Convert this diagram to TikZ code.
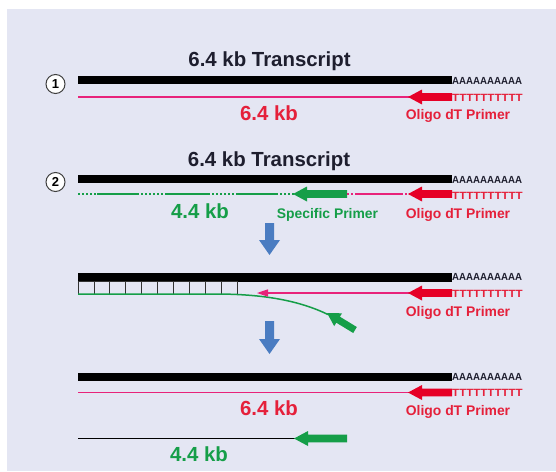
\documentclass[tikz,border=0pt]{standalone}
\usepackage{fontspec}
\setmainfont{Liberation Sans}
\usepackage{graphicx}
\definecolor{bgc}{HTML}{E4E6F3}
\definecolor{pinkl}{HTML}{E8237A}
\definecolor{redA}{HTML}{E60026}
\definecolor{redT}{HTML}{E5203A}
\definecolor{grn}{HTML}{159E48}
\definecolor{blu}{HTML}{4A7CC1}
\definecolor{navy}{HTML}{1E1E2E}
\newcommand\fatleft[4]{% tip x, tail x, y, colour
  \fill[#4] (#1,#3) -- (#1+14,#3-7.5) -- (#1+14,#3-3.8) -- (#2,#3-3.8) -- (#2,#3+3.8) -- (#1+14,#3+3.8) -- (#1+14,#3+7.5) -- cycle;}
\newcommand\downblue[2]{% top y, tip y
  \fill[blu] (265,#1) -- (274,#1) -- (274,#2-15) -- (280,#2-15) -- (269.5,#2) -- (259,#2-15) -- (265,#2-15) -- cycle;}
\newcommand\polyAtext{\scalebox{0.94}[1]{AAAAAAAAAA}}
\newcommand\polyTtext{\scalebox{1.1}[1]{TTTTTTTTTT}}
\begin{document}
\begin{tikzpicture}[x=1pt,y=-1pt,
  titletext/.style={font=\fontsize{20.4}{22}\selectfont\bfseries, text=navy, anchor=base, inner sep=0},
  kbtext/.style={font=\fontsize{20.4}{22}\selectfont\bfseries, anchor=base, inner sep=0},
  primertext/.style={font=\fontsize{13.9}{15}\selectfont\bfseries, anchor=base, inner sep=0},
  polyA/.style={font=\fontsize{10.3}{12}\selectfont\bfseries, text=navy, anchor=base west, inner sep=0},
  polyT/.style={font=\fontsize{10.5}{12}\selectfont\bfseries, text=redT, anchor=base west, inner sep=0},
  circnum/.style={circle, draw=black!75, fill=white, line width=1pt, minimum size=19pt, inner sep=0, font=\fontsize{13}{13}\selectfont\bfseries},
  pinkline/.style={draw=pinkl, line width=1.3pt},
  gline/.style={draw=grn, line width=1.5pt},
  gdot/.style={draw=grn, line width=1.5pt, dash pattern=on 2.2pt off 1.8pt},
  pdot/.style={draw=pinkl, line width=1.4pt, dash pattern=on 2.2pt off 1.8pt},
  cellbox/.style={draw=black!80, line width=0.8pt}
]
\useasboundingbox (0,0) rectangle (556,471);
\fill[white] (0,0) rectangle (556,471);
\fill[bgc] (7,9) rectangle (556,471);

% ---------------- Row 1 ----------------
\node[titletext] (t1) at (269.5,66.5) {6.4 kb Transcript};
\node[circnum] (c1) at (55.5,84) {1};
\fill[black] (78,75.5) rectangle (452,84.3);
\node[polyA] (a1) at (452,84.3) {\polyAtext};
\draw[pinkline] (78,97) -- (410,97);
\fatleft{408}{452}{97}{redA}
\node[polyT] (tt1) at (452,101) {\polyTtext};
\node[kbtext, text=redT] (kb1) at (269,120.5) {6.4 kb};
\node[primertext, text=redT] (o1) at (458,119) {Oligo dT Primer};

% ---------------- Row 2 ----------------
\node[titletext] (t2) at (269,166) {6.4 kb Transcript};
\node[circnum] (c2) at (55.5,182) {2};
\fill[black] (78,174.5) rectangle (452,183.3);
\node[polyA] (a2) at (452,183.3) {\polyAtext};
% green mixed line
\draw[gdot] (78,194) -- (97,194);
\draw[gline] (97,194) -- (137,194);
\draw[gdot] (137,194) -- (167,194);
\draw[gline] (167,194) -- (208,194);
\draw[gdot] (208,194) -- (237,194);
\draw[gline] (237,194) -- (276,194);
\draw[gdot] (276,194) -- (295,194);
\fatleft{293}{347}{194}{grn}
% red mixed line
\draw[pdot] (347,194) -- (357,194);
\draw[pinkline] (357,194) -- (401,194);
\draw[pdot] (401,194) -- (410,194);
\fatleft{408}{452}{194}{redA}
\node[polyT] (tt2) at (452,199.3) {\polyTtext};
\node[kbtext, text=grn] (kb2) at (200,218.5) {4.4 kb};
\node[primertext, text=grn] (s2) at (327.5,218) {Specific Primer};
\node[primertext, text=redT] (o2) at (458,218) {Oligo dT Primer};

\downblue{223}{255}

% ---------------- Row 3 ----------------
\fill[black] (78,273) rectangle (452,281.8);
\node[polyA] (a3) at (452,280.7) {\polyAtext};
\foreach \i in {0,...,9} {
  \draw[cellbox] (78+15.9*\i,281.8) rectangle (78+15.9*\i+15.9,294);
}
\draw[gline] (78,294) -- (215,294) .. controls (265,294) and (300,301) .. (328,314.5);
\fill[grn] (327,313) -- (342.0,313.3) -- (339.9,316.7) -- (356.8,327.0) -- (353.2,333.0) -- (336.3,322.7) -- (334.2,326.1) -- cycle;
\draw[pinkline] (267,293) -- (410,293);
\fill[pinkl] (257,293) -- (268,289.3) -- (268,296.7) -- cycle;
\fatleft{408}{452}{293}{redA}
\node[polyT] (tt3) at (452,297.7) {\polyTtext};
\node[primertext, text=redT] (o3) at (458,316.5) {Oligo dT Primer};

\downblue{321}{354}

% ---------------- Row 4 ----------------
\fill[black] (78,372.8) rectangle (452,381);
\node[polyA] (a4) at (452,380.8) {\polyAtext};
\draw[pinkline] (78,392.5) -- (410,392.5);
\fatleft{408}{452}{392.5}{redA}
\node[polyT] (tt4) at (452,396.8) {\polyTtext};
\node[kbtext, text=redT] (kb4) at (269,415.7) {6.4 kb};
\node[primertext, text=redT] (o4) at (458,415.5) {Oligo dT Primer};
\draw[black, line width=1.3pt] (78,438.5) -- (296,438.5);
\fatleft{294}{347}{438.5}{grn}
\node[kbtext, text=grn] (kb5) at (199,461) {4.4 kb};
\end{tikzpicture}
\end{document}
